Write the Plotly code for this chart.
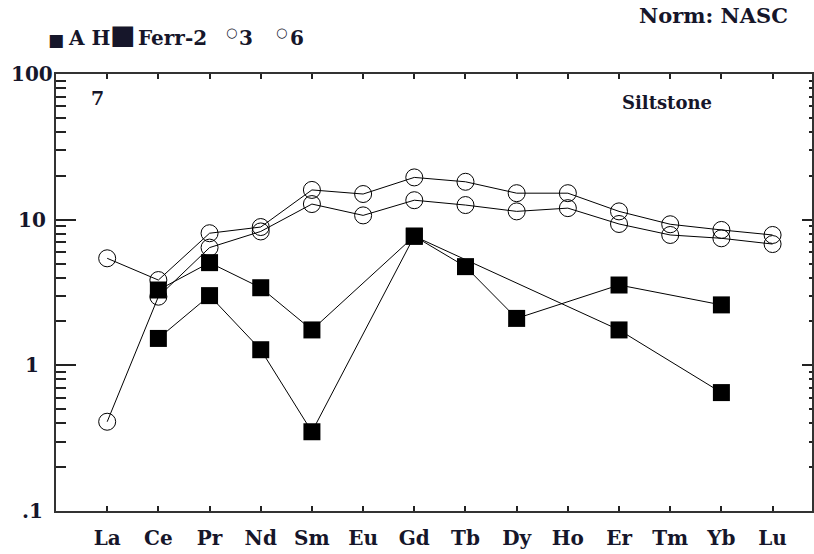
import math
import plotly.graph_objects as go

# REE pattern, normalised to NASC
elements = ["La", "Ce", "Pr", "Nd", "Sm", "Eu", "Gd", "Tb", "Dy", "Ho", "Er", "Tm", "Yb", "Lu"]

s3 = [5.43, 3.85, 8.07, 8.9, 16.0, 15.0, 19.5, 18.2, 15.2, 15.2, 11.4, 9.3, 8.5, 7.85]
s6 = [0.41, 2.96, 6.43, 8.3, 12.8, 10.7, 13.6, 12.6, 11.4, 12.0, 9.34, 7.85, 7.45, 6.8]
ah = [None, 3.29, 5.07, 3.41, 1.75, None, 7.7, 4.76, 2.10, None, 3.56, None, 2.60, None]
ferr2 = [None, 1.53, 3.01, 1.28, 0.35, None, 7.7, None, None, None, 1.75, None, 0.65, None]

y_tick_vals = [0.1, 1, 10, 100]
y_tick_text = [".1", "1", "10", "100"]

FONT = "DejaVu Serif"
SYM_FONT = "DejaVu Sans"
TXT = "#16162a"

# plot-area geometry in pixels
W, H = 814, 554
ML, MR, MT, MB = 56, 2, 74, 43
PW, PH = W - ML - MR, H - MT - MB


def px_x(x):
    return (x - ML) / PW


def px_y(y):
    return (H - MB - y) / PH


xi = list(range(len(elements)))

fig = go.Figure()

# open-circle samples on the left axis (drawn first)
for name, vals in [("3", s3), ("6", s6)]:
    fig.add_trace(go.Scatter(
        x=xi, y=vals, name=name, mode="lines+markers", connectgaps=True,
        line=dict(color="black", width=1),
        marker=dict(symbol="circle-open", size=17, color="black", line=dict(width=1)),
        showlegend=False, yaxis="y",
    ))

# filled-square samples on the right (overlaid) axis, drawn on top
for name, vals in [("AH", ah), ("Ferr-2", ferr2)]:
    fig.add_trace(go.Scatter(
        x=xi, y=vals, name=name, mode="lines+markers", connectgaps=True,
        line=dict(color="black", width=1),
        marker=dict(symbol="square", size=17, color="black"),
        showlegend=False, yaxis="y2",
    ))

minor_vals = [m * 10 ** d for d in (-1, 0, 1) for m in range(2, 10)]

fig.update_layout(
    width=W, height=H,
    margin=dict(l=ML, r=MR, t=MT, b=MB),
    paper_bgcolor="white", plot_bgcolor="white",
    xaxis=dict(
        range=[-1, 13.77], tickvals=xi, ticktext=elements,
        ticks="inside", ticklen=5, tickwidth=1.5, tickcolor="#222",
        showline=True, linecolor="#333", linewidth=2, mirror="ticks",
        showgrid=False, zeroline=False, ticklabelstandoff=8,
        tickfont=dict(family=FONT, size=20, color=TXT, weight="bold"),
    ),
    yaxis=dict(
        type="log", range=[-1, 2], tickvals=y_tick_vals, showticklabels=False,
        ticks="inside", ticklen=20, tickwidth=1.5, tickcolor="#222",
        minor=dict(tickvals=minor_vals, ticks="inside", ticklen=10, tickwidth=1.5,
                   tickcolor="#222", showgrid=False),
        showline=True, linecolor="#333", linewidth=2,
        showgrid=False, zeroline=False,
    ),
    yaxis2=dict(
        type="log", range=[-1, 2], overlaying="y", side="right", anchor="x",
        tickvals=y_tick_vals, showticklabels=False,
        ticks="inside", ticklen=10, tickwidth=1.5, tickcolor="#222",
        minor=dict(tickvals=minor_vals, ticks="inside", ticklen=3, tickwidth=1.5,
                   tickcolor="#222", showgrid=False),
        showline=True, linecolor="#333", linewidth=2,
        showgrid=False, zeroline=False,
    ),
)


def label(text, x, y, size, family=FONT, anchor="center", bold=True):
    return dict(
        x=px_x(x), xref="paper", y=px_y(y), yref="paper",
        text=text, showarrow=False, xanchor=anchor, yanchor="middle",
        font=dict(family=family, size=size, color=TXT, weight="bold" if bold else "normal"),
    )


annotations = []
# decade labels, centred in the left margin
for v, t in zip(y_tick_vals, y_tick_text):
    annotations.append(dict(
        x=px_x(32), xref="paper", y=math.log10(v), yref="y",
        yanchor="middle", xanchor="center",
        text=t, showarrow=False,
        font=dict(family=FONT, size=20, color=TXT, weight="bold"),
    ))

annotations += [
    label("7", 97, 98, 19),
    label("Siltstone", 667, 102, 18),
    label("Norm: NASC", 713, 16, 21),
    # sample key across the top
    label("■", 56, 40, 17, family=SYM_FONT),
    label("A H", 89, 38, 20),
    label("■", 123, 35, 27, family=SYM_FONT),
    label("Ferr-2", 172, 38, 20),
    label("○", 231, 33, 13, family=SYM_FONT),
    label("3", 246, 38, 20),
    label("○", 281, 33, 13, family=SYM_FONT),
    label("6", 297, 38, 20),
]
fig.update_layout(annotations=annotations)

fig.write_html("out.html")
